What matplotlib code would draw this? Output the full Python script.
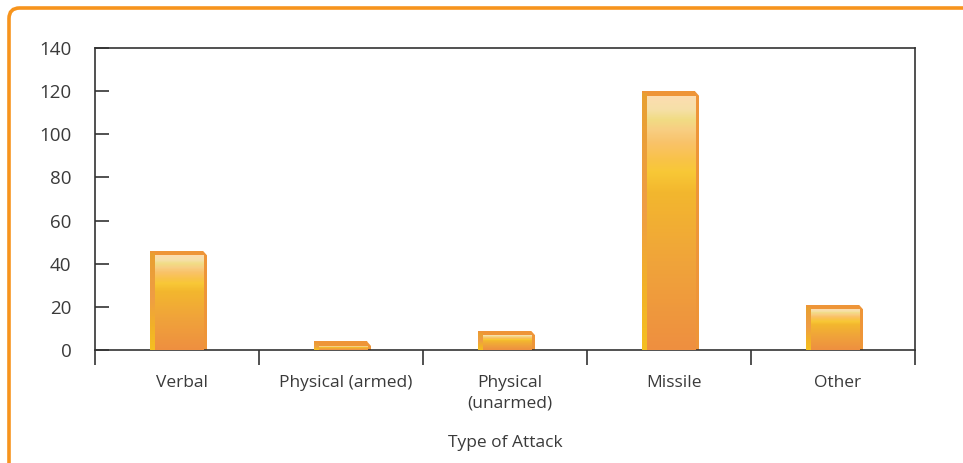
import numpy as np
import matplotlib
matplotlib.use("Agg")
import matplotlib.pyplot as plt
import matplotlib.transforms as mtransforms
from matplotlib.colors import LinearSegmentedColormap
from matplotlib.patches import FancyBboxPatch, Polygon, Rectangle

categories = ["Verbal", "Physical (armed)", "Physical\n(unarmed)", "Missile", "Other"]
values = [46, 4, 9, 120, 21]
y_ticks = [0, 20, 40, 60, 80, 100, 120, 140]
x_title = "Type of Attack"

plt.rcParams["font.family"] = ["Open Sans", "DejaVu Sans"]
TEXT = "#3a3a3a"
EDGE = "#EE9538"

fig = plt.figure(figsize=(9.63, 4.63), dpi=100)
ax = fig.add_axes([95 / 963, 1 - 350 / 463, 820 / 963, 302 / 463])

# rounded orange frame around the chart panel
frame = FancyBboxPatch((9 / 963, -0.2), 1.2, 1.2 - 8 / 463,
                       boxstyle="round,pad=0,rounding_size=0.011",
                       transform=fig.transFigure, fill=False,
                       edgecolor="#F7941D", linewidth=2.6, zorder=0,
                       mutation_aspect=963 / 463)
fig.patches.append(frame)

face_cmap = LinearSegmentedColormap.from_list("face", [
    (0.00, "#EE8F40"), (0.35, "#F0A43A"), (0.62, "#F3B72E"),
    (0.70, "#F8C836"), (0.76, "#F9C24C"), (0.82, "#F9C36A"),
    (0.87, "#F8CE82"), (0.91, "#F1DC84"), (0.95, "#F6E0A8"),
    (1.00, "#FCDDB0")])
side_cmap = LinearSegmentedColormap.from_list("side", [
    (0.00, "#F5C020"), (0.25, "#F2B128"), (0.55, "#EF9D45"),
    (1.00, "#E8A030")])

bar_w = 0.345
bar_off = 0.01
px_x = 5 / 164.0      # left side strip width in x data units
px_y = 140 / 302.0    # one pixel in y data units
grad = np.linspace(0, 1, 256).reshape(-1, 1)

for i, v in enumerate(values):
    x0 = i + 0.5 - bar_w / 2 + bar_off
    x1 = x0 + bar_w
    cap = 5 * px_y
    # orange body (top cap and right side)
    ax.add_patch(Rectangle((x0, 0), bar_w, v, facecolor=EDGE,
                           edgecolor="none", zorder=2))
    # bevelled top-right corner
    ax.add_patch(Polygon([(x1 - 0.8 * px_x, v), (x1, v - 4.5 * px_y),
                          (x1 + 0.01, v - 4.5 * px_y), (x1 + 0.01, v + 1)],
                         closed=True, facecolor="white", edgecolor="none",
                         zorder=3))
    fx0 = x0 + px_x
    fx1 = x1 - 0.6 * px_x
    ftop = v - cap
    if ftop > 0:
        ax.imshow(grad, cmap=face_cmap, origin="lower", aspect="auto",
                  extent=[fx0, fx1, 0, ftop], zorder=3,
                  interpolation="nearest")
        ax.imshow(grad, cmap=side_cmap, origin="lower", aspect="auto",
                  extent=[x0, fx0, 0, v - 0.5 * cap], zorder=3,
                  interpolation="nearest")

ax.set_xlim(0, 5)
ax.set_ylim(0, 140)

ax.set_yticks(y_ticks)
ax.tick_params(axis="y", direction="in", length=10, width=1.2,
               color="#333333", labelsize=13.5, labelcolor=TEXT, pad=17)

ax.set_xticks([0, 1, 2, 3, 4, 5])
ax.set_xticklabels([])
ax.set_xticks(np.arange(5) + 0.5, minor=True)
ax.set_xticklabels(categories, minor=True, fontsize=12.5, color=TEXT,
                   va="top", linespacing=1.4)
ax.tick_params(axis="x", which="major", direction="out", length=11,
               width=1.2, color="#333333")
ax.tick_params(axis="x", which="minor", length=0, pad=18)
shift = mtransforms.ScaledTranslation(5 / 100, 0, fig.dpi_scale_trans)
for lbl in ax.get_xticklabels(minor=True):
    lbl.set_transform(lbl.get_transform() + shift)

for s in ax.spines.values():
    s.set_color("#333333")
    s.set_linewidth(1.2)

ax.set_xlabel(x_title, fontsize=12.5, color=TEXT, labelpad=17)

fig.savefig("out.png", dpi=100)
